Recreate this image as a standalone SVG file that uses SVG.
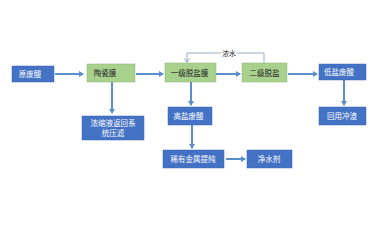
<svg xmlns="http://www.w3.org/2000/svg" width="375" height="225" viewBox="0 0 375 225">
<style>
.b{fill:#4472C4;stroke:#3A64AE;stroke-width:0.5}
.g{fill:#A9D18E;stroke:#8DB573;stroke-width:0.5}
.tw{fill:#fff;font-family:"Noto Sans CJK SC","Noto Sans",sans-serif;font-size:7.5px;text-anchor:middle}
.td{fill:#222;font-family:"Noto Sans CJK SC","Noto Sans",sans-serif;font-size:7.5px;text-anchor:middle}
.a{stroke:#5B8FC9;stroke-width:2;fill:none;marker-end:url(#ah)}
.f{stroke:#8096AE;stroke-width:0.8;fill:none}
</style>
<defs>
<marker id="ah" markerWidth="6" markerHeight="6" refX="4" refY="3" orient="auto" markerUnits="userSpaceOnUse">
<path d="M0,0 L5,3 L0,6 Z" fill="#5B8FC9"/>
</marker>
<marker id="ah2" markerWidth="6" markerHeight="6" refX="4" refY="3" orient="auto" markerUnits="userSpaceOnUse">
<path d="M0.5,0.5 L4.5,3 L0.5,5.5" fill="none" stroke="#8096AE" stroke-width="0.8"/>
</marker>
</defs>
<rect width="375" height="225" fill="#fff"/>
<g id="connectors">
<line class="a" x1="55" y1="74" x2="83" y2="74"/>
<line class="a" x1="112" y1="82" x2="112" y2="113"/>
<line class="a" x1="136" y1="74" x2="163" y2="74"/>
<line class="a" x1="216" y1="74" x2="240" y2="74"/>
<line class="a" x1="288" y1="74" x2="317" y2="74"/>
<line class="a" x1="344" y1="80" x2="344" y2="105"/>
<line class="a" x1="191" y1="82" x2="191" y2="105"/>
<line class="a" x1="192" y1="125" x2="192" y2="148"/>
<line class="a" x1="226" y1="159" x2="245" y2="159"/>
<path class="f" d="M264,63 V53 H187 V62" marker-end="url(#ah2)"/>
<rect x="221" y="49" width="16" height="8" fill="#fff"/>
<text class="td" x="229" y="56" style="font-size:7px">浓水</text>
</g>
<g id="n1"><rect class="b" x="12" y="66" width="42" height="16"/><text class="tw" x="30" y="77">原废酸</text></g>
<g id="n2"><rect class="g" x="87" y="64" width="48" height="18"/><text class="td" x="105" y="76">陶瓷膜</text></g>
<g id="n3"><rect class="b" x="82" y="116" width="62" height="24"/><text class="tw" x="113" y="126">浓缩液返回系</text><text class="tw" x="113" y="136">统压滤</text></g>
<g id="n4"><rect class="g" x="165" y="63" width="51" height="19"/><text class="td" x="189.5" y="75.5">一级脱盐膜</text></g>
<g id="n5"><rect class="g" x="242" y="63" width="45" height="19"/><text class="td" x="264.5" y="75.5">二级脱盐</text></g>
<g id="n6"><rect class="b" x="319" y="64" width="47" height="16"/><text class="tw" x="339" y="75">低盐废酸</text></g>
<g id="n7"><rect class="b" x="319" y="107" width="47" height="18"/><text class="tw" x="342" y="119">回用冲渣</text></g>
<g id="n8"><rect class="b" x="168" y="107" width="44" height="18"/><text class="tw" x="188.5" y="119">高盐废酸</text></g>
<g id="n9"><rect class="b" x="163" y="150" width="61" height="18"/><text class="tw" x="193" y="162">稀有金属提纯</text></g>
<g id="n10"><rect class="b" x="247" y="150" width="45" height="18"/><text class="tw" x="269" y="162">净水剂</text></g>
</svg>
